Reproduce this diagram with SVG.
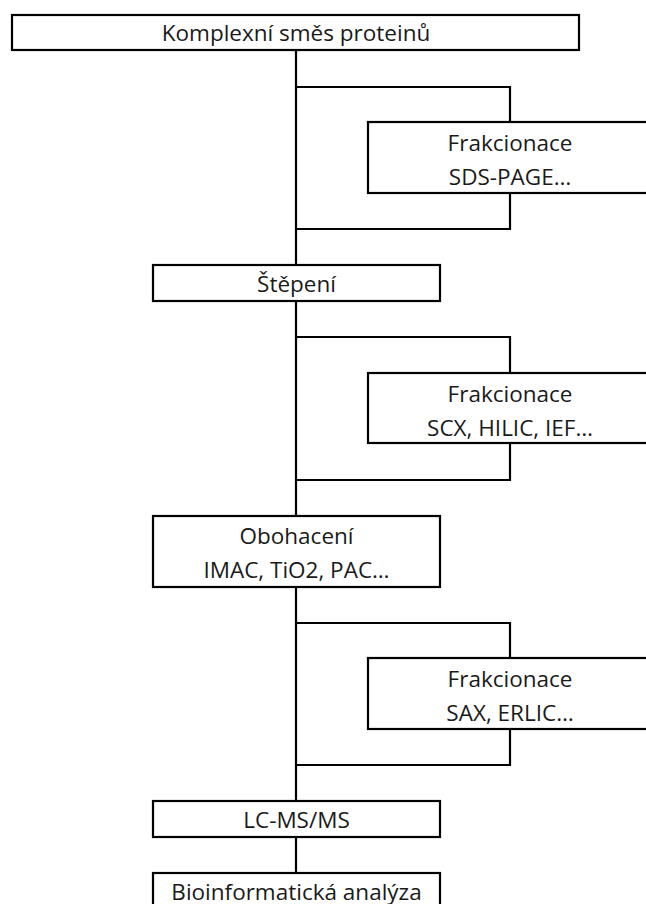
<svg xmlns="http://www.w3.org/2000/svg" width="646" height="904" viewBox="0 0 646 904">
<style>
.box{fill:#fff;stroke:#000;stroke-width:2.2}
.ln{fill:none;stroke:#000;stroke-width:2.2}
text{font-family:"Open Sans","Noto Sans","Liberation Sans",sans-serif;font-size:22.5px;fill:#1a1a1a;text-anchor:middle}
</style>
<rect width="646" height="904" fill="#fff"/>
<g id="connectors">
<path class="ln" d="M296,50 V265 M296,301 V516 M296,587 V801 M296,837 V873"/>
<path class="ln" d="M296,87 H510 V122 M510,193 V229 H296"/>
<path class="ln" d="M296,337 H510 V373 M510,443 V480 H296"/>
<path class="ln" d="M296,623 H510 V658 M510,729 V765 H296"/>
</g>
<g id="n-komplex">
<rect class="box" x="12" y="15" width="567" height="35"/>
<text x="296" y="41">Komplexní směs proteinů</text>
</g>
<g id="n-frak1">
<rect class="box" x="368" y="122" width="284" height="71"/>
<text x="510" y="151">Frakcionace</text>
<text x="510" y="185">SDS-PAGE…</text>
</g>
<g id="n-stepeni">
<rect class="box" x="153" y="265" width="287" height="36"/>
<text x="296.5" y="292">Štěpení</text>
</g>
<g id="n-frak2">
<rect class="box" x="368" y="373" width="284" height="70"/>
<text x="510" y="402">Frakcionace</text>
<text x="510" y="436">SCX, HILIC, IEF…</text>
</g>
<g id="n-obohaceni">
<rect class="box" x="153" y="516" width="287" height="71"/>
<text x="296.5" y="544">Obohacení</text>
<text x="296.5" y="578">IMAC, TiO2, PAC…</text>
</g>
<g id="n-frak3">
<rect class="box" x="368" y="658" width="284" height="71"/>
<text x="510" y="687">Frakcionace</text>
<text x="510" y="721">SAX, ERLIC…</text>
</g>
<g id="n-lcms">
<rect class="box" x="153" y="801" width="287" height="36"/>
<text x="296.5" y="828">LC-MS/MS</text>
</g>
<g id="n-bio">
<rect class="box" x="153" y="873" width="287" height="40"/>
<text x="296.5" y="900">Bioinformatická analýza</text>
</g>
</svg>
